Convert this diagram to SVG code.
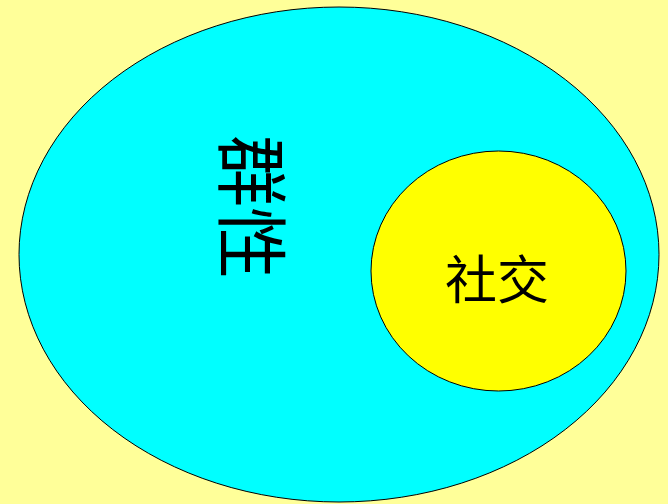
<svg xmlns="http://www.w3.org/2000/svg" width="668" height="504" viewBox="0 0 668 504">
<style>
.shape{stroke:#000;stroke-width:1}
.lbl{font-family:"Noto Sans CJK SC","Noto Sans CJK JP",sans-serif;fill:#000;text-anchor:middle;dominant-baseline:central}
</style>
<rect x="0" y="0" width="668" height="504" fill="#FFFF99"/>
<g id="group">
<ellipse class="shape" cx="339" cy="254.5" rx="320" ry="247.5" fill="#00FFFF"/>
<text class="lbl" x="253" y="207" font-size="72" transform="rotate(90 253 207) translate(0 -3)">群性</text>
</g>
<g id="social">
<ellipse class="shape" cx="498.5" cy="271" rx="127.5" ry="120" fill="#FFFF00"/>
<text class="lbl" x="497" y="276" font-size="52">社交</text>
</g>
<g id="connectors"></g>
</svg>
